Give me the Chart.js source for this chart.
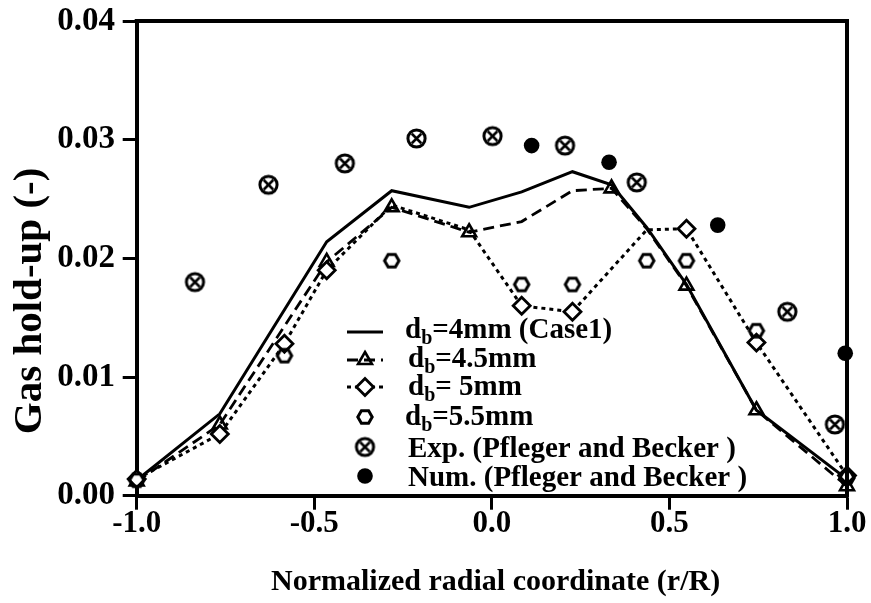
<!DOCTYPE html>
<html>
<head>
<meta charset="utf-8">
<script src="https://cdn.jsdelivr.net/npm/chart.js@4.4.1/dist/chart.umd.min.js"></script>
<style>
html,body{margin:0;padding:0;background:#fff;}
#wrap{width:871px;height:603px;}
</style>
</head>
<body>
<div id="wrap"><canvas id="c" width="871" height="603"></canvas></div>
<script>
// ---------------- DATA ----------------
const xTickLabels = ['-1.0', '-0.5', '0.0', '0.5', '1.0'];
const yTickLabels = ['0.00', '0.01', '0.02', '0.03', '0.04'];

const seriesLabels = [
  'd_b=4mm (Case1)',
  'd_b=4.5mm',
  'd_b= 5mm',
  'd_b=5.5mm',
  'Exp. (Pfleger and Becker )',
  'Num. (Pfleger and Becker )'
];

const case1X = [-1, -0.766, -0.465, -0.282, -0.064, 0.084, 0.227, 0.337, 0.436, 0.548, 0.745, 1.0];
const case1Y = [0.0013, 0.0069, 0.0214, 0.0257, 0.0243, 0.0256, 0.0273, 0.0262, 0.0226, 0.0178, 0.0072, 0.0014];

const db45X = [-1, -0.766, -0.465, -0.282, -0.064, 0.084, 0.227, 0.337, 0.436, 0.548, 0.745, 1.0];
const db45Y = [0.0012, 0.0060, 0.0197, 0.0243, 0.0222, 0.0231, 0.0257, 0.0259, 0.0225, 0.0177, 0.0072, 0.0008];

const db5X = [-1, -0.766, -0.584, -0.465, -0.282, -0.064, 0.084, 0.227, 0.436, 0.548, 0.745, 1.0];
const db5Y = [0.0014, 0.0052, 0.0128, 0.0190, 0.0245, 0.0224, 0.0160, 0.0155, 0.0224, 0.0225, 0.0129, 0.0017];

const db55X = [-1, -0.584, -0.282, 0.084, 0.227, 0.436, 0.548, 0.745, 1.0];
const db55Y = [0.0013, 0.0118, 0.0198, 0.0178, 0.0178, 0.0198, 0.0198, 0.0139, 0.0015];

const expX = [-0.836, -0.629, -0.414, -0.212, 0.002, 0.206, 0.408, 0.832, 0.966];
const expY = [0.0180, 0.0262, 0.0280, 0.0301, 0.0303, 0.0295, 0.0264, 0.0155, 0.0060];

const numX = [0.112, 0.330, 0.636, 0.995];
const numY = [0.0295, 0.0281, 0.0228, 0.0120];

const xTitle = ' Normalized radial coordinate (r/R)';
const yTitle = '      Gas hold-up (-)';

// ---------------- STYLE ----------------
const FONT = "'Liberation Serif', 'Times New Roman', serif";
const toPts = (xs, ys) => xs.map((x, i) => ({ x: x, y: ys[i] }));

const db45Show = [1, 1, 1, 1, 1, 0, 0, 1, 0, 1, 1, 1];
const db5Show  = [1, 1, 1, 1, 0, 0, 1, 1, 0, 1, 1, 1];

function makeHex(r, lw) {
  const s = Math.ceil(2 * r + lw + 4);
  const c = document.createElement('canvas');
  c.width = s; c.height = s;
  const g = c.getContext('2d');
  g.lineWidth = lw; g.strokeStyle = '#000';
  g.beginPath();
  for (let i = 0; i < 6; i++) {
    const a = i * Math.PI / 3;
    const px = s / 2 + r * Math.cos(a), py = s / 2 + r * Math.sin(a);
    if (i === 0) g.moveTo(px, py); else g.lineTo(px, py);
  }
  g.closePath(); g.stroke();
  return c;
}
function makeCircX(r, lw) {
  const s = Math.ceil(2 * r + lw + 4);
  const c = document.createElement('canvas');
  c.width = s; c.height = s;
  const g = c.getContext('2d');
  g.lineWidth = lw; g.strokeStyle = '#000';
  g.beginPath(); g.arc(s / 2, s / 2, r, 0, Math.PI * 2); g.stroke();
  const d = r * 0.55;
  g.lineWidth = lw * 0.85;
  g.beginPath();
  g.moveTo(s / 2 - d, s / 2 - d); g.lineTo(s / 2 + d, s / 2 + d);
  g.moveTo(s / 2 + d, s / 2 - d); g.lineTo(s / 2 - d, s / 2 + d);
  g.stroke();
  return c;
}
const hexImg = makeHex(7.2, 3);
const circXImg = makeCircX(8.6, 3);

const datasets = [
  {
    label: seriesLabels[0], data: toPts(case1X, case1Y), showLine: true,
    borderColor: '#000', borderWidth: 3, pointRadius: 0, pointStyle: false,
    tension: 0, clip: false, order: 5
  },
  {
    label: seriesLabels[1], data: toPts(db45X, db45Y), showLine: true,
    borderColor: '#000', borderWidth: 2.8, borderDash: [11, 6],
    pointStyle: 'triangle', pointRadius: db45Show.map(v => v ? 8 : 0),
    pointBorderWidth: 2.6, pointBorderColor: '#000', pointBackgroundColor: 'rgba(255,255,255,0)',
    tension: 0, clip: false, order: 4
  },
  {
    label: seriesLabels[2], data: toPts(db5X, db5Y), showLine: true,
    borderColor: '#000', borderWidth: 3, borderDash: [4, 4],
    pointStyle: 'rectRot', pointRadius: db5Show.map(v => v ? 8.5 : 0),
    pointBorderWidth: 2.8, pointBorderColor: '#000', pointBackgroundColor: '#fff',
    tension: 0, clip: false, order: 3
  },
  {
    label: seriesLabels[3], data: toPts(db55X, db55Y), showLine: false,
    pointStyle: hexImg, pointRadius: 7, borderColor: '#000',
    clip: false, order: 2
  },
  {
    label: seriesLabels[4], data: toPts(expX, expY), showLine: false,
    pointStyle: circXImg, pointRadius: 9, borderColor: '#000',
    clip: false, order: 1
  },
  {
    label: seriesLabels[5], data: toPts(numX, numY), showLine: false,
    pointStyle: 'circle', pointRadius: 7.8, pointBorderWidth: 0,
    pointBackgroundColor: '#000', borderColor: '#000',
    clip: false, order: 0
  }
];

// ---------------- PLUGINS ----------------
const framePlugin = {
  id: 'frame',
  afterDraw(chart) {
    const { ctx, chartArea: a } = chart;
    ctx.save();
    ctx.strokeStyle = '#000';
    ctx.lineWidth = 4;
    ctx.lineCap = 'square';
    ctx.beginPath();
    ctx.moveTo(a.left, a.top);
    ctx.lineTo(a.right, a.top);
    ctx.lineTo(a.right, a.bottom);
    ctx.stroke();
    ctx.restore();
  }
};

const LEG = {
  lineX0: 347, lineX1: 383, textX: [405, 408, 408, 405, 408, 408],
  markY: [332, 360, 387, 417, 447, 476],
  baseY: [338, 367, 395, 425, 457, 486],
  font: 29, subFont: 20, subDrop: 6
};

const legendPlugin = {
  id: 'insetLegend',
  afterDraw(chart) {
    const ctx = chart.ctx;
    ctx.save();
    chart.data.datasets.forEach((ds, i) => {
      const my = LEG.markY[i];
      const cx = (LEG.lineX0 + LEG.lineX1) / 2;
      ctx.strokeStyle = '#000';
      ctx.fillStyle = '#000';
      if (ds.showLine) {
        ctx.save();
        ctx.lineWidth = ds.borderWidth;
        ctx.setLineDash(ds.borderDash || []);
        ctx.beginPath();
        ctx.moveTo(LEG.lineX0, my);
        ctx.lineTo(LEG.lineX1, my);
        ctx.stroke();
        ctx.restore();
      }
      if (ds.pointStyle) {
        ctx.save();
        const r = Array.isArray(ds.pointRadius) ? Math.max(...ds.pointRadius) : ds.pointRadius;
        ctx.lineWidth = ds.pointBorderWidth || 0;
        ctx.strokeStyle = ds.pointBorderColor || '#000';
        ctx.fillStyle = ds.pointBackgroundColor || '#000';
        Chart.helpers.drawPoint(ctx, {
          pointStyle: ds.pointStyle, rotation: 0, radius: r,
          borderWidth: ds.pointBorderWidth || 0
        }, cx, my);
        ctx.restore();
      }
      const txt = ds.label;
      let x = LEG.textX[i];
      const by = LEG.baseY[i];
      ctx.fillStyle = '#000';
      ctx.textBaseline = 'alphabetic';
      ctx.textAlign = 'left';
      const parts = [];
      for (let k = 0; k < txt.length; k++) {
        if (txt[k] === '_' && k + 1 < txt.length) { parts.push({ t: txt[k + 1], sub: true }); k++; }
        else {
          if (parts.length && !parts[parts.length - 1].sub) parts[parts.length - 1].t += txt[k];
          else parts.push({ t: txt[k], sub: false });
        }
      }
      parts.forEach(p => {
        ctx.font = 'bold ' + (p.sub ? LEG.subFont : LEG.font) + 'px ' + FONT;
        ctx.fillText(p.t, x, by + (p.sub ? LEG.subDrop : 0));
        x += ctx.measureText(p.t).width;
      });
    });
    ctx.restore();
  }
};

// ---------------- CHART ----------------
new Chart(document.getElementById('c'), {
  type: 'scatter',
  data: { datasets: datasets },
  options: {
    responsive: false,
    animation: false,
    devicePixelRatio: 1,
    layout: { padding: { top: 21, right: 24, bottom: 0, left: 0 } },
    plugins: { legend: { display: false }, tooltip: { enabled: false } },
    scales: {
      x: {
        type: 'linear', min: -1, max: 1,
        afterBuildTicks: (s) => { s.ticks = xTickLabels.map(v => ({ value: parseFloat(v) })); },
        afterFit: (s) => { s.height = 107.3; s.paddingLeft = 0; s.paddingRight = 0; },
        ticks: {
          color: '#000', padding: 5,
          font: { family: FONT, size: 31, weight: 'bold', lineHeight: 0.6 },
          callback: (v, i) => xTickLabels[i]
        },
        grid: { display: true, drawOnChartArea: false, drawTicks: true, tickLength: 14, tickWidth: 3, tickColor: '#000', color: '#000' },
        border: { display: true, width: 4, color: '#000' },
        title: {
          display: true, text: xTitle, color: '#000',
          font: { family: FONT, size: 30, weight: 'bold', lineHeight: 1.2 },
          padding: { top: 0, bottom: 3 }
        }
      },
      y: {
        type: 'linear', min: 0, max: 0.04,
        afterBuildTicks: (s) => { s.ticks = yTickLabels.map(v => ({ value: parseFloat(v) })); },
        afterFit: (s) => { s.width = 136.7; s.paddingTop = 0; s.paddingBottom = 0; },
        ticks: {
          color: '#000', padding: 7.7,
          font: { family: FONT, size: 33, weight: 'bold', lineHeight: 1.2 },
          callback: (v, i) => yTickLabels[i]
        },
        grid: { display: true, drawOnChartArea: false, drawTicks: true, tickLength: 14, tickWidth: 3, tickColor: '#000', color: '#000' },
        border: { display: true, width: 4, color: '#000' },
        title: {
          display: true, text: yTitle, color: '#000', align: 'start',
          font: { family: FONT, size: 41, weight: 'bold', lineHeight: 1.2 },
          padding: { top: 5.4, bottom: 0 }
        }
      }
    }
  },
  plugins: [framePlugin, legendPlugin]
});
</script>
</body>
</html>
